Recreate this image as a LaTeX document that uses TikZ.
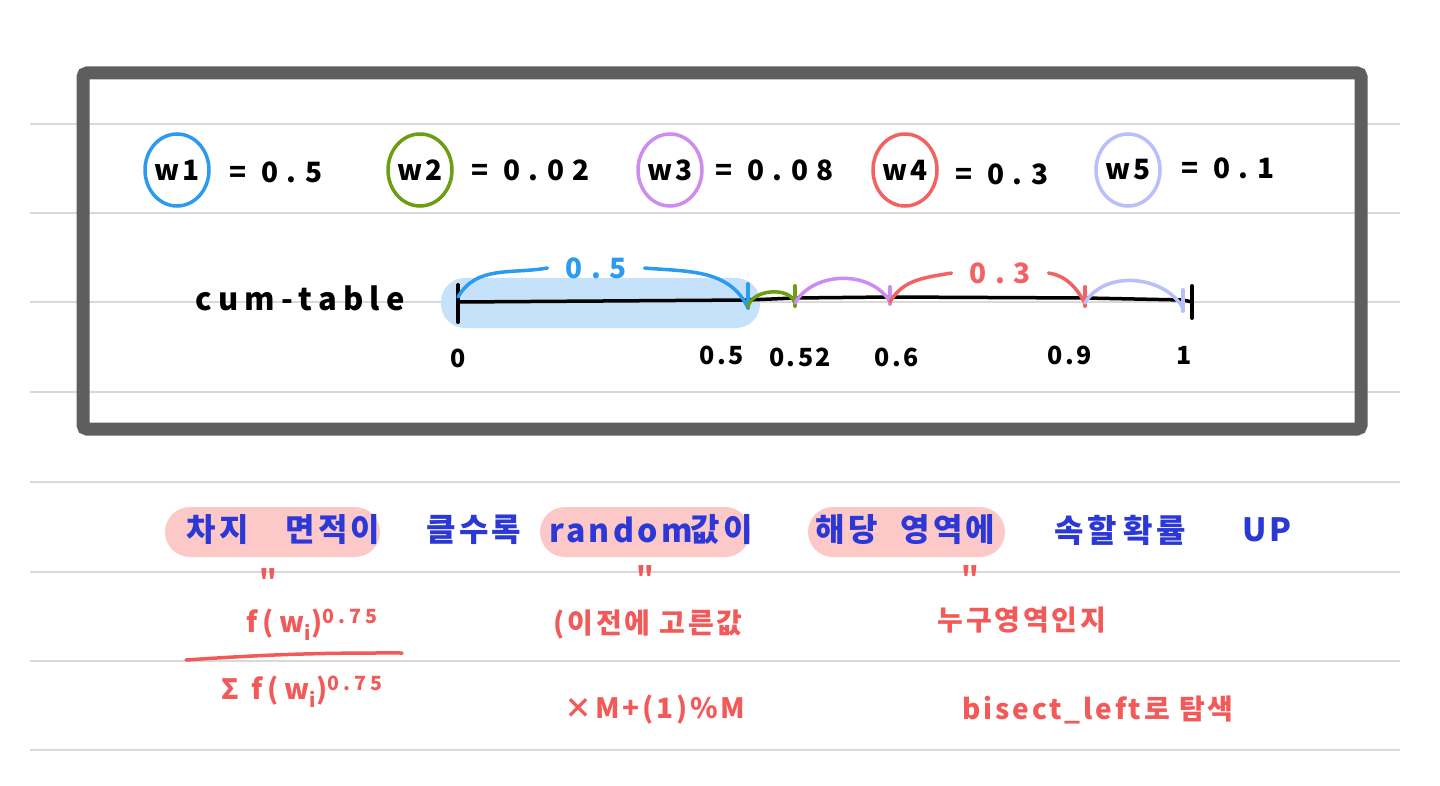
\documentclass[tikz,border=0pt]{standalone}
\usepackage{fontspec}
\newfontfamily\kr[LetterSpace=10]{Noto Sans CJK KR}
\newfontfamily\krm[LetterSpace=20]{Noto Sans CJK KR}
\newfontfamily\krw[LetterSpace=30]{Noto Sans CJK KR}
\usetikzlibrary{shapes.geometric}

\definecolor{framegray}{HTML}{5E5E5E}
\definecolor{rulegray}{HTML}{D9D9D9}
\definecolor{wblue}{HTML}{2B9BF0}
\definecolor{wgreen}{HTML}{6B9E12}
\definecolor{wpurple}{HTML}{CC8CF2}
\definecolor{wred}{HTML}{F26262}
\definecolor{wlav}{HTML}{B8BFFA}
\definecolor{hlblue}{HTML}{C6E2FB}
\definecolor{hlpink}{HTML}{FCC8C8}
\definecolor{inkblue}{HTML}{2C38D6}
\definecolor{inkred}{HTML}{F25A5A}

\begin{document}
\begin{tikzpicture}[x=1pt,y=-1pt,font=\krw\bfseries\fontsize{28}{30}\selectfont,
  rule/.style={rulegray,line width=1.5pt},
  wcirc/.style={ellipse,draw=#1,line width=3.5pt,minimum width=64pt,minimum height=72pt,inner sep=0pt,font=\kr\bfseries\fontsize{28}{30}\selectfont},
  tick/.style={line width=4pt,line cap=round},
  arc/.style={line width=3.5pt,line cap=round,#1},
  numlabel/.style={font=\kr\bfseries\fontsize{25}{27}\selectfont},
  blueink/.style={inkblue,font=\kr\bfseries\fontsize{32}{34}\selectfont},
  redink/.style={inkred,font=\kr\bfseries\fontsize{28}{30}\selectfont}]
\useasboundingbox (0,0) rectangle (1440,786);
\fill[white] (0,0) rectangle (1440,786);

\foreach \y in {124,213,302,392,482,572,661,750}
  \draw[rule] (30,\y) -- (1400,\y);
\draw[framegray,line width=13pt,rounded corners=4pt] (83,73) rectangle (1361,429);

\node[wcirc=wblue]   (W1) at (177,170) {w1};
\node[wcirc=wgreen]  (W2) at (420,170) {w2};
\node[wcirc=wpurple] (W3) at (670,170) {w3};
\node[wcirc=wred]    (W4) at (905,170) {w4};
\node[wcirc=wlav]    (W5) at (1128,170) {w5};
\node[anchor=west] (V1) at (226,172) {= 0.5};
\node[anchor=west] (V2) at (468,170) {= 0.02};
\node[anchor=west] (V3) at (712,170) {= 0.08};
\node[anchor=west] (V4) at (952,174) {= 0.3};
\node[anchor=west] (V5) at (1178,168) {= 0.1};

\fill[hlblue,rounded corners=24pt] (441,278) rectangle (760,328);
\node[font=\krm\bfseries\fontsize{31}{33}\selectfont] (CT) at (300,298) {cum-table};

\coordinate (T0) at (458,302);
\coordinate (T1) at (748,300);
\coordinate (T2) at (795,298);
\coordinate (T3) at (890,297);
\coordinate (T4) at (1085,298);
\coordinate (T5) at (1183,300);
\coordinate (T6) at (1192,302);

\draw[line width=3.5pt,line cap=round] (T0)--(T1)--(T2)--(T3)--(T4)--(T5)--(T6);
\draw[tick] (458,285) -- (458,322);
\draw[tick] (1192,286) -- (1192,318);
\draw[tick,wblue]   (748,284) -- (748,308);
\draw[tick,wgreen]  (795,286) -- (795,306);
\draw[tick,wpurple] (890,287) -- (890,304);
\draw[tick,wred]    (1085,287) -- (1085,306);
\draw[tick,wlav]    (1183,290) -- (1183,311);

\node[wblue,inner xsep=18pt] (L1) at (596,268) {0.5};
\node[wred,inner xsep=18pt]  (L4) at (1000,273) {0.3};
\draw[arc=wblue] (T0) ++(0,-5) to[out=60,in=190] (L1.west);
\draw[arc=wblue] (L1.east) to[out=-5,in=115] ([yshift=-8pt]T1);
\draw[arc=wgreen] ([yshift=-7pt]T1) to[out=80,in=100] ([yshift=-6pt]T2);
\draw[arc=wpurple] ([yshift=-5pt]T2) to[out=60,in=120] ([yshift=-5pt]T3);
\draw[arc=wred] ([yshift=-5pt]T3) to[out=60,in=190] (L4.west);
\draw[arc=wred] (L4.east) to[out=-10,in=120] ([yshift=-5pt]T4);
\draw[arc=wlav] ([yshift=-5pt]T4) to[out=60,in=120] ([yshift=-8pt]T5);

\node[numlabel] (N0) at (458,358) {0};
\node[numlabel] (N1) at (722,355) {0.5};
\node[numlabel] (N2) at (800,357) {0.52};
\node[numlabel] (N3) at (897,357) {0.6};
\node[numlabel] (N4) at (1070,355) {0.9};
\node[numlabel] (N5) at (1184,355) {1};

\fill[hlpink,rounded corners=25pt] (165,507) rectangle (380,557);
\fill[hlpink,rounded corners=25pt] (540,507) rectangle (750,557);
\fill[hlpink,rounded corners=25pt] (808,507) rectangle (1005,557);

\foreach \x/\t [count=\i] in {218/차지,333/면적이,474/클수록,621/random,722/값이,847/해당,948/영역에,1086/속할,1155/확률,1267/UP}
  \node[blueink] (B\i) at (\x,530) {\t};

\node[redink] (Q1) at (268,580) {"};
\node[redink] (Q2) at (645,577) {"};
\node[redink] (Q3) at (970,577) {"};
\node[redink,font=\krm\bfseries\fontsize{28}{30}\selectfont] (F1) at (312,625) {f(w\textsubscript{i})\textsuperscript{0.75}};
\coordinate (FL) at (186,660);
\coordinate (FR) at (402,653);
\draw[inkred,line width=3.5pt,line cap=round] (FL) to[bend left=2] (FR);
\node[redink,font=\krm\bfseries\fontsize{28}{30}\selectfont] (F2) at (302,692) {Σ f(w\textsubscript{i})\textsuperscript{0.75}};
\node[redink] (P1) at (648,625) {(이전에 고른값};
\node[redink] (P2) at (655,710) {×M+(1)\%M};
\node[redink] (R1) at (1022,620) {누구영역인지};
\node[redink] (R2) at (1098,710) {bisect\_left로 탐색};
\end{tikzpicture}
\end{document}
